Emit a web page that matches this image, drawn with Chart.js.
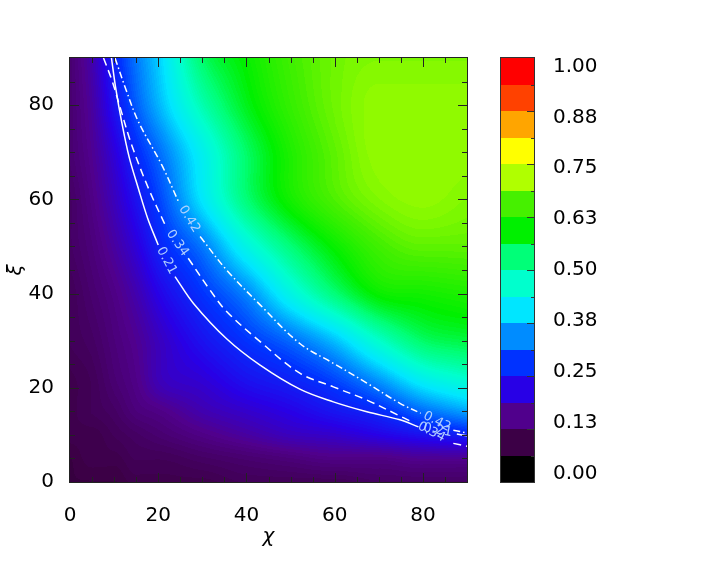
<!DOCTYPE html>
<html>
<head>
<meta charset="utf-8">
<script src="https://cdn.jsdelivr.net/npm/chart.js@4.4.0/dist/chart.umd.min.js"></script>
<style>
  html, body { margin: 0; padding: 0; background: #fff; }
  canvas { display: block; }
</style>
</head>
<body>
<canvas id="myChart" width="718" height="586"></canvas>
<script>
// grid nodes of the map (degrees)
const chiNodes = [0, 5, 10, 15, 20, 30, 40, 50, 60, 70, 80, 90];
const xiNodes = [0, 5, 10, 15, 20, 30, 40, 50, 60, 70, 80, 90];

// map values, one row per xi node, one value per chi node
const xi0 = [0.09, 0.09, 0.09, 0.10, 0.10, 0.10, 0.11, 0.11, 0.11, 0.12, 0.12, 0.12];
const xi5 = [0.09, 0.10, 0.10, 0.11, 0.11, 0.12, 0.13, 0.14, 0.15, 0.15, 0.16, 0.16];
const xi10 = [0.10, 0.10, 0.11, 0.12, 0.13, 0.15, 0.17, 0.19, 0.20, 0.22, 0.24, 0.26];
const xi15 = [0.10, 0.11, 0.12, 0.14, 0.15, 0.18, 0.20, 0.22, 0.245, 0.27, 0.32, 0.36];
const xi20 = [0.10, 0.11, 0.13, 0.15, 0.18, 0.20, 0.23, 0.25, 0.28, 0.33, 0.40, 0.44];
const xi30 = [0.11, 0.12, 0.14, 0.16, 0.19, 0.24, 0.28, 0.32, 0.38, 0.47, 0.54, 0.56];
const xi40 = [0.11, 0.13, 0.15, 0.18, 0.22, 0.28, 0.34, 0.44, 0.53, 0.60, 0.61, 0.62];
const xi50 = [0.12, 0.14, 0.17, 0.21, 0.26, 0.33, 0.44, 0.53, 0.60, 0.65, 0.67, 0.67];
const xi60 = [0.12, 0.15, 0.19, 0.24, 0.29, 0.41, 0.53, 0.61, 0.66, 0.69, 0.70, 0.69];
const xi70 = [0.13, 0.16, 0.21, 0.27, 0.32, 0.43, 0.54, 0.62, 0.67, 0.70, 0.70, 0.70];
const xi80 = [0.13, 0.17, 0.24, 0.31, 0.37, 0.49, 0.58, 0.64, 0.68, 0.70, 0.70, 0.70];
const xi90 = [0.13, 0.18, 0.26, 0.33, 0.39, 0.54, 0.60, 0.65, 0.68, 0.69, 0.69, 0.69];
const gridValues = [xi0, xi5, xi10, xi15, xi20, xi30, xi40, xi50, xi60, xi70, xi80, xi90];

// contour lines (null = gap where the label sits)
const solidChi = [9.4, 10.3, 11.7, 13.4, 15.5, 17.6, 20.0, null, 23.8, 28.0, 35.5, 43.1, 52.1, 59.7, 67.3, 74.8, 79.0, null, 87.7, 90.0];
const solidXi = [90.0, 84.0, 76.5, 69.0, 62.3, 56.0, 50.3, null, 43.6, 37.9, 30.4, 24.8, 19.7, 17.0, 14.9, 13.2, 11.7, null, 10.2, 9.8];
const dashedChi = [7.6, 9.6, 11.3, 14.0, 17.8, 21.9, null, 26.8, 31.7, 35.5, 43.1, 52.1, 59.7, 67.3, 74.8, 77.0, null, 86.9, 90.0];
const dashedXi = [90.0, 85.0, 79.7, 71.5, 62.3, 53.9, null, 47.5, 40.8, 36.2, 29.8, 23.1, 20.2, 17.4, 14.0, 13.0, null, 8.2, 7.6];
const dashDotChi = [10.2, 12.8, 15.5, 20.8, 24.6, null, 29.5, 35.5, 43.1, 52.1, 59.7, 67.3, 74.8, 79.5, null, 86.9, 90.0];
const dashDotXi = [90.0, 83.0, 76.5, 67.3, 59.5, null, 52.1, 45.0, 37.6, 29.4, 25.2, 21.0, 16.7, 14.6, null, 11.0, 10.4];
const contourLabels = ["0.21", "0.34", "0.42"];

// colour bar
const cbColors = ["#000000", "#3c0046", "#50008c", "#2800e6", "#0032ff", "#008cff", "#00e6ff", "#00ffcd",
                  "#00ff78", "#00f000", "#46f000", "#b0ff00", "#ffff00", "#ffa500", "#ff4100", "#ff0000"];
const cbTickLabels = ["0.00", "0.13", "0.25", "0.38", "0.50", "0.63", "0.75", "0.88", "1.00"];

const fontFamily = "'DejaVu Sans', 'Liberation Sans', sans-serif";

const cbRgb = cbColors.map((h) => [parseInt(h.slice(1, 3), 16), parseInt(h.slice(3, 5), 16), parseInt(h.slice(5, 7), 16)]);

function colorFor(v) {
  const n = cbRgb.length;
  const t = v * n - 0.5;
  if (t <= 0) return cbRgb[0];
  if (t >= n - 1) return cbRgb[n - 1];
  const k = Math.floor(t), f = t - k;
  const a = cbRgb[k], b = cbRgb[k + 1];
  return [a[0] + (b[0] - a[0]) * f, a[1] + (b[1] - a[1]) * f, a[2] + (b[2] - a[2]) * f];
}

// monotone cubic slopes and evaluation on non uniform nodes
function slopes(xs, ys) {
  const n = xs.length, d = [], m = [];
  for (let k = 0; k < n - 1; k++) d.push((ys[k + 1] - ys[k]) / (xs[k + 1] - xs[k]));
  m[0] = d[0];
  m[n - 1] = d[n - 2];
  for (let k = 1; k < n - 1; k++) {
    if (d[k - 1] * d[k] <= 0) { m[k] = 0; continue; }
    const h0 = xs[k] - xs[k - 1], h1 = xs[k + 1] - xs[k];
    m[k] = (d[k - 1] * h1 + d[k] * h0) / (h0 + h1);
  }
  return m;
}

function hermite(xs, ys, ms, t) {
  let k = 0;
  while (k < xs.length - 2 && t > xs[k + 1]) k++;
  const h = xs[k + 1] - xs[k];
  const s = Math.min(1, Math.max(0, (t - xs[k]) / h));
  const s2 = s * s, s3 = s2 * s;
  return (2 * s3 - 3 * s2 + 1) * ys[k] + (s3 - 2 * s2 + s) * h * ms[k] +
         (-2 * s3 + 3 * s2) * ys[k + 1] + (s3 - s2) * h * ms[k + 1];
}

function toPoints(xs, ys) {
  return xs.map((c, i) => ({ x: c, y: ys[i] }));
}

// filled map under the contour lines
const heatmapPlugin = {
  id: "heatmap",
  beforeDatasetsDraw(chart) {
    const { ctx, chartArea: a, scales: { x, y } } = chart;
    const left = Math.round(a.left), top = Math.round(a.top);
    const w = Math.round(a.right) - left, h = Math.round(a.bottom) - top;
    const img = ctx.createImageData(w, h);
    const rowSlopes = gridValues.map((row) => slopes(chiNodes, row));
    const xiOfRow = [];
    for (let r = 0; r < h; r++) xiOfRow.push(y.getValueForPixel(top + r + 0.5));
    for (let c = 0; c < w; c++) {
      const chi = x.getValueForPixel(left + c + 0.5);
      const colVals = gridValues.map((row, j) => hermite(chiNodes, row, rowSlopes[j], chi));
      const colSlopes = slopes(xiNodes, colVals);
      for (let r = 0; r < h; r++) {
        const v = Math.round(hermite(xiNodes, colVals, colSlopes, xiOfRow[r]) * 160) / 160;
        const col = colorFor(v);
        const k = (r * w + c) * 4;
        img.data[k] = col[0];
        img.data[k + 1] = col[1];
        img.data[k + 2] = col[2];
        img.data[k + 3] = 255;
      }
    }
    ctx.putImageData(img, left, top);
  },
};

// contour labels, set in the gaps of each line
const labelPlugin = {
  id: "contourLabels",
  afterDatasetsDraw(chart) {
    const { ctx, scales: { x, y } } = chart;
    ctx.save();
    ctx.font = "13px " + fontFamily;
    ctx.fillStyle = "rgba(185,215,255,0.95)";
    ctx.textAlign = "center";
    ctx.textBaseline = "middle";
    chart.data.datasets.forEach((ds, d) => {
      const pts = ds.data;
      for (let i = 1; i < pts.length - 1; i++) {
        if (pts[i].x !== null) continue;
        const p0 = pts[i - 1], p1 = pts[i + 1];
        const x0 = x.getPixelForValue(p0.x), y0 = y.getPixelForValue(p0.y);
        const x1 = x.getPixelForValue(p1.x), y1 = y.getPixelForValue(p1.y);
        ctx.save();
        ctx.translate((x0 + x1) / 2, (y0 + y1) / 2);
        ctx.rotate(Math.atan2(y1 - y0, x1 - x0));
        ctx.fillText(contourLabels[d], 0, 0);
        ctx.restore();
      }
    });
    ctx.restore();
  },
};

// IDL style box with inward ticks
const framePlugin = {
  id: "frame",
  afterDatasetsDraw(chart) {
    const { ctx, chartArea: a, scales: { x, y } } = chart;
    ctx.save();
    ctx.strokeStyle = "#222";
    ctx.lineWidth = 1;
    ctx.strokeRect(a.left - 0.5, a.top - 0.5, a.width + 1, a.height + 1);
    ctx.beginPath();
    for (let v = 5; v < 90; v += 5) {
      const len = v % 20 === 0 ? 9 : 5;
      const px = Math.round(x.getPixelForValue(v)) + 0.5;
      ctx.moveTo(px, a.bottom); ctx.lineTo(px, a.bottom - len);
      ctx.moveTo(px, a.top); ctx.lineTo(px, a.top + len);
      const py = Math.round(y.getPixelForValue(v)) + 0.5;
      ctx.moveTo(a.left, py); ctx.lineTo(a.left + len, py);
      ctx.moveTo(a.right, py); ctx.lineTo(a.right - len, py);
    }
    ctx.stroke();
    ctx.restore();
  },
};

// colour bar drawn on its own scale, with its tick labels
const colorbarPlugin = {
  id: "colorbar",
  afterDraw(chart) {
    const { ctx } = chart;
    const cb = chart.scales.cb;
    const n = cbColors.length;
    const x0 = cb.left + 34, bw = 33;
    ctx.save();
    for (let k = 0; k < n; k++) {
      const yb = Math.round(cb.getPixelForValue(k / n));
      const yt = Math.round(cb.getPixelForValue((k + 1) / n));
      ctx.fillStyle = cbColors[k];
      ctx.fillRect(x0, yt, bw, yb - yt);
    }
    ctx.strokeStyle = "#333";
    ctx.lineWidth = 1;
    ctx.strokeRect(x0 - 0.5, cb.top - 0.5, bw + 1, cb.bottom - cb.top + 1);
    ctx.beginPath();
    for (let k = 1; k < n; k++) {
      const len = k % 2 === 0 ? 7 : 3;
      const py = Math.round(cb.getPixelForValue(k / n)) + 0.5;
      ctx.moveTo(x0 + bw, py);
      ctx.lineTo(x0 + bw - len, py);
    }
    ctx.stroke();
    // labels sit slightly inside the bar ends, as in the original plot
    ctx.fillStyle = "#000";
    ctx.font = "20px " + fontFamily;
    ctx.textAlign = "left";
    ctx.textBaseline = "middle";
    cb.ticks.forEach((t, i) => {
      ctx.fillText(cbTickLabels[i], x0 + bw + 19, cb.getPixelForValue(0.02 + t.value * 0.96));
    });
    ctx.restore();
  },
};

const tickFont = { family: fontFamily, size: 20 };

const lineStyle = {
  showLine: true,
  borderColor: "#ffffff",
  borderWidth: 1.5,
  pointRadius: 0,
  spanGaps: false,
  tension: 0.35,
};

var config = {
  type: "scatter",
  data: {
    datasets: [
      Object.assign({ data: toPoints(solidChi, solidXi) }, lineStyle),
      Object.assign({ data: toPoints(dashedChi, dashedXi), borderDash: [8, 5] }, lineStyle),
      Object.assign({ data: toPoints(dashDotChi, dashDotXi), borderDash: [7, 3, 1.5, 3] }, lineStyle),
    ],
  },
  options: {
    responsive: false,
    animation: false,
    devicePixelRatio: 1,
    events: [],
    layout: { padding: { top: 58, left: 0, right: 0, bottom: 0 } },
    plugins: {
      legend: { display: false },
      tooltip: { enabled: false },
    },
    scales: {
      x: {
        type: "linear",
        min: 0,
        max: 90,
        grid: { display: false },
        border: { display: false },
        ticks: { stepSize: 20, includeBounds: false, autoSkip: false, maxRotation: 0, padding: 14, color: "#000", font: tickFont },
        title: { display: true, text: "χ", color: "#000", font: { family: fontFamily, size: 20, style: "italic" }, padding: { top: 0, bottom: 37 } },
        afterFit: (s) => { s.height = 104; },
      },
      y: {
        type: "linear",
        min: 0,
        max: 90,
        grid: { display: false },
        border: { display: false },
        ticks: { stepSize: 20, includeBounds: false, autoSkip: false, padding: 8, color: "#000", font: tickFont },
        title: { display: true, text: "ξ", color: "#000", font: { family: fontFamily, size: 20, style: "italic" }, padding: { top: 4, bottom: 0 } },
        afterFit: (s) => { s.width = 70; },
      },
      cb: {
        type: "linear",
        position: "right",
        min: 0,
        max: 1,
        grid: { display: false },
        border: { display: false },
        ticks: { display: false, stepSize: 0.125, autoSkip: false },
        afterFit: (s) => { s.width = 251; },
      },
    },
  },
  plugins: [heatmapPlugin, labelPlugin, framePlugin, colorbarPlugin],
};

var ctx = document.getElementById("myChart").getContext("2d");
var myChart = new Chart(ctx, config);
</script>
</body>
</html>
